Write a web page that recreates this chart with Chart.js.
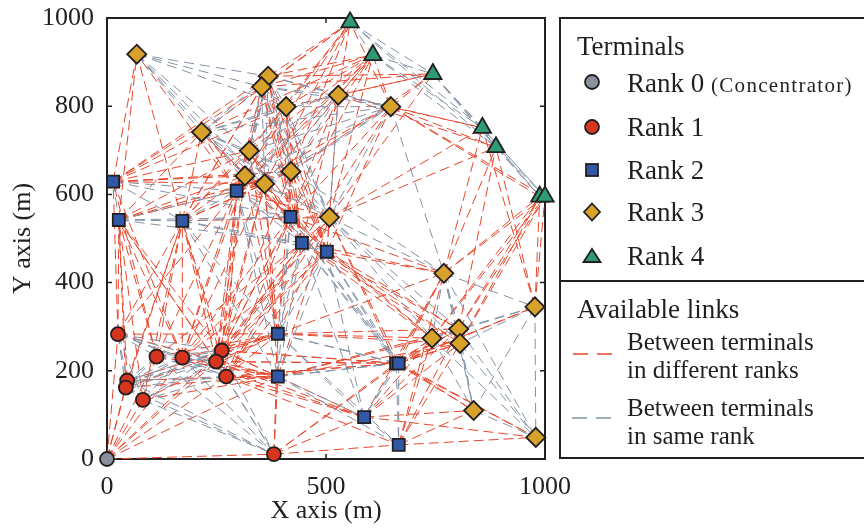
<!DOCTYPE html>
<html>
<head>
<meta charset="utf-8">
<script src="https://cdn.jsdelivr.net/npm/chart.js@4.4.0/dist/chart.umd.min.js"></script>
<style>
body { margin: 0; background: #fff; }
#wrap { position: relative; width: 864px; height: 529px; overflow: hidden;
        font-family: "Liberation Serif", "Times New Roman", serif; color: #231f20; }
#chart { position: absolute; left: 0; top: 0; }
.box { position: absolute; left: 559px; top: 17px; width: 330px; height: 442px;
       border: 2px solid #231f20; box-sizing: border-box; }
.divider { position: absolute; left: 559px; top: 280px; width: 330px; height: 2px; background: #231f20; }
.txt { position: absolute; white-space: nowrap; font-size: 27px; line-height: 30px; }
.small { font-size: 21px; letter-spacing: 1.3px; }
.links { font-size: 25px; line-height: 28px; }
.mk { position: absolute; }
</style>
</head>
<body>
<div id="wrap">
  <canvas id="chart" width="864" height="529"></canvas>
  <div class="box"></div>
  <div class="divider"></div>
  <div class="txt" style="left:577px;top:31px">Terminals</div>
  <svg class="mk" style="left:582px;top:72px" width="20" height="20"><circle cx="10" cy="10" r="7" fill="#8a919e" stroke="#231f20" stroke-width="1.8"/></svg>
  <div class="txt" style="left:627px;top:68px">Rank 0 <span class="small">(Concentrator)</span></div>
  <svg class="mk" style="left:582px;top:117px" width="20" height="20"><circle cx="10" cy="10" r="7" fill="#d8351f" stroke="#231f20" stroke-width="1.8"/></svg>
  <div class="txt" style="left:627px;top:112px">Rank 1</div>
  <svg class="mk" style="left:582px;top:160px" width="20" height="20"><rect x="4" y="4" width="12" height="12" fill="#3058a6" stroke="#231f20" stroke-width="1.8"/></svg>
  <div class="txt" style="left:627px;top:155px">Rank 2</div>
  <svg class="mk" style="left:582px;top:202px" width="20" height="20"><polygon points="10,1.5 18,10 10,18.5 2,10" fill="#d8a22a" stroke="#231f20" stroke-width="1.8"/></svg>
  <div class="txt" style="left:627px;top:197px">Rank 3</div>
  <svg class="mk" style="left:582px;top:246px" width="20" height="20"><polygon points="10,3 18.5,16 1.5,16" fill="#2e9b72" stroke="#231f20" stroke-width="1.8"/></svg>
  <div class="txt" style="left:627px;top:241px">Rank 4</div>
  <div class="txt" style="left:577px;top:294px">Available links</div>
  <svg class="mk" style="left:570px;top:349px" width="50" height="10"><line x1="3" y1="5" x2="46" y2="5" stroke="#e8462b" stroke-width="1.3" stroke-dasharray="15,9"/></svg>
  <div class="txt links" style="left:627px;top:328px">Between terminals<br>in different ranks</div>
  <svg class="mk" style="left:570px;top:413px" width="50" height="10"><line x1="2" y1="5" x2="45" y2="5" stroke="#8391a6" stroke-width="1.3" stroke-dasharray="15,9"/></svg>
  <div class="txt links" style="left:627px;top:394px">Between terminals<br>in same rank</div>
</div>
<script>
// terminal positions (m)
const rank0X = [0];
const rank0Y = [0];
const rank1X = [25, 113, 172, 262, 249, 272, 46, 43, 82, 381];
const rank1Y = [283, 232, 230, 246, 221, 187, 178, 162, 134, 11];
const rank2X = [14, 27, 172, 296, 419, 445, 502, 390, 390, 660, 666, 587, 666];
const rank2Y = [629, 542, 540, 608, 549, 490, 470, 284, 187, 217, 217, 95, 32];
const rank3X = [68, 368, 353, 409, 216, 325, 315, 360, 420, 528, 648, 508, 769, 977, 803, 742, 806, 837, 979];
const rank3Y = [918, 868, 844, 799, 741, 699, 642, 624, 652, 825, 799, 548, 421, 345, 295, 274, 262, 110, 49];
const rank4X = [555, 607, 744, 857, 888, 988, 1000];
const rank4Y = [990, 916, 873, 751, 707, 595, 595];

const LINK_RANGE = 440; // a link is available between terminals closer than this

const ranks = [
  { label: 'Rank 0', xs: rank0X, ys: rank0Y, style: 'circle', r: 7, color: '#8a919e' },
  { label: 'Rank 1', xs: rank1X, ys: rank1Y, style: 'circle', r: 7, color: '#d8351f' },
  { label: 'Rank 2', xs: rank2X, ys: rank2Y, style: 'rect', r: 8.5, color: '#3058a6' },
  { label: 'Rank 3', xs: rank3X, ys: rank3Y, style: 'rectRot', r: 9.5, color: '#d8a22a' },
  { label: 'Rank 4', xs: rank4X, ys: rank4Y, style: 'triangle', r: 10, color: '#2e9b72' }
];

const nodes = [];
ranks.forEach((rk, ri) => rk.xs.forEach((x, i) => nodes.push({ x: x, y: rk.ys[i], rank: ri })));

const diffLinks = [];
const sameLinks = [];
for (let i = 0; i < nodes.length; i++) {
  for (let j = i + 1; j < nodes.length; j++) {
    const a = nodes[i], b = nodes[j];
    if (Math.hypot(a.x - b.x, a.y - b.y) > LINK_RANGE) continue;
    const list = a.rank === b.rank ? sameLinks : diffLinks;
    list.push({ x: a.x, y: a.y }, { x: b.x, y: b.y }, { x: null, y: null });
  }
}

const serif = '"Liberation Serif", "Times New Roman", serif';
const ink = '#231f20';

const frameTicks = {
  id: 'frameTicks',
  beforeDatasetsDraw(chart) {
    const { ctx, chartArea: a, scales } = chart;
    ctx.save();
    ctx.strokeStyle = ink;
    ctx.lineWidth = 2;
    ctx.strokeRect(a.left, a.top, a.right - a.left, a.bottom - a.top);
    ctx.lineWidth = 1.5;
    ctx.beginPath();
    [200, 400, 600, 800].forEach(v => {
      const py = scales.y.getPixelForValue(v);
      ctx.moveTo(a.left, py); ctx.lineTo(a.left + 5, py);
      ctx.moveTo(a.right, py); ctx.lineTo(a.right - 5, py);
    });
    const px = scales.x.getPixelForValue(500);
    ctx.moveTo(px, a.top); ctx.lineTo(px, a.top + 5);
    ctx.moveTo(px, a.bottom); ctx.lineTo(px, a.bottom - 5);
    ctx.stroke();
    ctx.restore();
  }
};

const datasets = [
  { data: diffLinks, showLine: true, pointRadius: 0, borderColor: '#e8462b', borderWidth: 1,
    borderDash: [10, 5], spanGaps: false, order: 10 },
  { data: sameLinks, showLine: true, pointRadius: 0, borderColor: '#8391a6', borderWidth: 1,
    borderDash: [10, 6], spanGaps: false, order: 9 }
];
ranks.forEach(rk => datasets.push({
  label: rk.label,
  data: rk.xs.map((x, i) => ({ x: x, y: rk.ys[i] })),
  pointStyle: rk.style,
  pointRadius: rk.r,
  backgroundColor: rk.color,
  borderColor: ink,
  borderWidth: 1.8,
  clip: false,
  order: 1
}));

new Chart(document.getElementById('chart'), {
  type: 'scatter',
  data: { datasets: datasets },
  options: {
    responsive: false,
    animation: false,
    events: [],
    layout: { padding: { left: 0, top: 18, right: 319, bottom: 0 } },
    plugins: { legend: { display: false }, tooltip: { enabled: false } },
    scales: {
      x: {
        min: 0, max: 1000,
        ticks: { stepSize: 500, color: ink, font: { family: serif, size: 26 }, padding: 13,
                 callback: v => String(v) },
        grid: { display: false, drawTicks: false },
        border: { display: false },
        title: { display: true, text: 'X axis (m)', color: ink,
                 font: { family: serif, size: 26 }, padding: { top: 0, bottom: 2 } },
        afterFit(s) { s.height = 70; s.paddingLeft = 0; s.paddingRight = 0; }
      },
      y: {
        min: 0, max: 1000,
        ticks: { stepSize: 200, color: ink, font: { family: serif, size: 26 }, padding: 13,
                 callback: v => String(v) },
        grid: { display: false, drawTicks: false },
        border: { display: false },
        title: { display: true, text: 'Y axis (m)', color: ink,
                 font: { family: serif, size: 26 }, padding: { top: 8, bottom: 0 } },
        afterFit(s) { s.width = 107; s.paddingTop = 0; s.paddingBottom = 0; }
      }
    }
  },
  plugins: [frameTicks]
});
</script>
</body>
</html>
